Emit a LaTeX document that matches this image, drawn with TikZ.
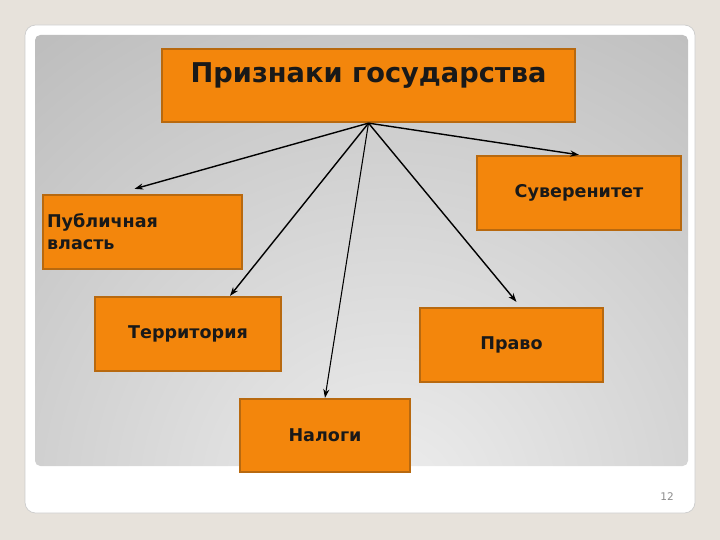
\documentclass[tikz,border=0pt]{standalone}
\usepackage{fontspec}
\setmainfont{DejaVu Sans}
\usetikzlibrary{arrows.meta,calc}

\definecolor{bgcol}{HTML}{E7E2DB}
\definecolor{boxfill}{HTML}{F3860C}
\definecolor{boxline}{HTML}{B8690F}

\begin{document}
\begin{tikzpicture}[x={(0.02cm,0)},y={(0,-0.02cm)},
    box/.style={rectangle,draw=boxline,fill=boxfill,line width=1.3pt,
        minimum height=1.48cm,inner sep=0pt,font=\bfseries\fontsize{10}{12.5}\selectfont,text=black!90},
    link/.style={-{Stealth[length=5pt,width=3.5pt]},line width=0.8pt}]
\useasboundingbox (0,0) rectangle (720,540);
\fill[bgcol] (0,0) rectangle (720,540);
% slide
\draw[black!20,fill=white,rounded corners=6pt] (25,25) rectangle (695,513);
\begin{scope}
\clip[rounded corners=3pt] (35,35) rectangle (688,466);
\shade[inner color=black!7,outer color=black!36] (390,500) circle (900);
\end{scope}
\node[text=black!45,font=\fontsize{6}{7}\selectfont] (num) at (667,497) {12};

% boxes
    \node[box,anchor=base,minimum width=8.26cm,minimum height=0pt,text height=0.68cm,text depth=0.78cm,
        font=\bfseries\fontsize{15.5}{18}\selectfont] (top) at (368.5,83) {Признаки государства};
    \node[box,minimum width=4.08cm] (suv) at (579,193) {Суверенитет};
    \node[box,text width=3.82cm,inner xsep=0.08cm,align=left] (pub) at (142.5,232) {Публичная\\власть};
    \node[box,minimum width=3.72cm] (ter) at (188,334) {Территория};
    \node[box,minimum width=3.66cm] (prav) at (511.5,345) {Право};
    \node[box,minimum width=3.4cm,minimum height=1.46cm] (nal) at (325,435.5) {Налоги};

% arrows
    \draw[link] (top.south) -- ($(pub.north)+(-8,-5)$);
    \draw[link] (top.south) -- (suv.north);
    \draw[link] (top.south) -- ($(ter.north)+(42,0)$);
    \draw[link] (top.south) -- ($(prav.north)+(5,-5)$);
    \draw[link,line width=0.6pt] (top.south) -- (nal.north);
\end{tikzpicture}
\end{document}
